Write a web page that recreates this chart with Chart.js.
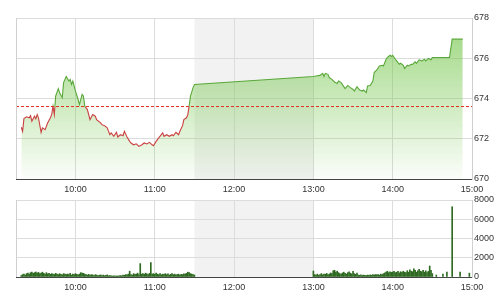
<!DOCTYPE html>
<html><head><meta charset="utf-8">
<script src="https://cdn.jsdelivr.net/npm/chart.js@4.4.0/dist/chart.umd.min.js"></script>
<style>
html,body{margin:0;padding:0;background:#fff;}
#wrap{position:relative;width:501px;height:300px;overflow:hidden;background:#fff;}
canvas{position:absolute;left:0;}
</style></head><body>
<div id="wrap">
<canvas id="vol" width="501" height="112" style="top:188px"></canvas>
<canvas id="price" width="501" height="200" style="top:0"></canvas>
</div>
<script>
const tickLabels = ['10:00','11:00','12:00','13:00','14:00','15:00'];
const axisStart = '09:15', axisEnd = '15:00';
const breakStart = '11:30', breakEnd = '13:00';
const refPrice = 673.6;
const priceMin = 670, priceMax = 678, priceStep = 2;
const volMin = 0, volMax = 8000, volStep = 2000;

const priceTimes = ['09:19','09:20','09:21','09:23','09:25','09:26','09:27','09:29','09:30','09:31','09:32','09:34','09:35','09:37','09:39','09:41','09:42','09:43','09:44','09:45','09:47','09:48','09:50','09:51','09:53','09:55','09:56','09:57','09:58','10:00','10:02','10:03','10:05','10:06','10:07','10:09','10:11','10:13','10:15','10:16','10:19','10:20','10:22','10:24','10:26','10:27','10:29','10:31','10:32','10:34','10:36','10:37','10:39','10:41','10:42','10:44','10:46','10:48','10:50','10:52','10:54','10:56','10:58','10:59','11:01','11:03','11:06','11:07','11:09','11:11','11:13','11:14','11:16','11:18','11:19','11:21','11:22','11:24','11:25','11:26','11:27','11:29','11:30',
'13:00','13:02','13:05','13:07','13:08','13:09','13:11','13:12','13:14','13:16','13:18','13:19','13:21','13:23','13:24','13:26','13:28','13:30','13:31','13:33','13:35','13:37','13:38','13:40','13:41','13:43','13:45','13:46','13:48','13:50','13:52','13:53','13:55','13:56','13:58','13:59','14:00','14:02','14:03','14:05','14:06','14:08','14:09','14:11','14:12','14:14','14:15','14:17','14:18','14:20','14:22','14:24','14:25','14:27','14:29','14:30','14:43','14:45','14:53'];
const priceValues = [672.57,672.37,673.00,673.09,673.04,673.15,672.87,673.12,672.99,673.20,
673.04,672.32,672.54,672.45,672.79,673.04,673.20,673.62,673.20,674.12,
674.49,674.29,674.04,674.79,675.09,674.87,674.95,674.70,674.87,674.37,
673.95,673.70,674.20,674.12,673.62,673.45,672.95,673.20,673.12,672.95,
672.79,672.70,672.65,672.54,672.20,672.29,672.12,672.32,672.09,672.20,
672.15,672.37,672.09,671.87,671.79,671.70,671.75,671.62,671.69,671.79,
671.74,671.82,671.70,671.65,671.87,672.04,672.29,672.12,672.20,672.12,
672.20,672.15,672.32,672.20,672.37,672.65,672.95,673.04,673.20,673.62,
674.12,674.54,674.70,
675.09,675.12,675.15,675.25,675.09,675.25,675.20,675.04,674.95,674.82,
674.75,674.87,674.79,674.59,674.49,674.65,674.54,674.45,674.37,674.59,
674.42,674.37,674.42,674.29,674.62,674.65,674.87,675.29,675.42,675.62,
675.65,675.62,675.95,676.04,676.15,676.09,676.15,675.95,675.87,675.70,
675.75,675.65,675.49,675.65,675.62,675.70,675.69,675.82,675.75,675.92,
675.87,675.95,675.87,675.99,675.92,676.04,676.04,676.95,676.95];

const amVolStart = '09:19';
const amVolume = [150,250,300,200,350,400,300,450,500,380,
450,520,400,480,350,420,500,380,300,450,
320,380,280,350,300,260,380,300,250,340,
280,220,350,300,260,310,240,380,200,300,
260,350,280,220,300,450,420,380,300,260,
200,280,180,250,220,160,240,200,150,180,
220,150,200,140,180,220,130,160,120,100,
120,90,110,100,130,150,120,200,180,250,
220,300,600,250,200,350,280,300,400,250,
1390,300,350,280,400,320,250,380,1500,300,
350,280,400,300,250,350,220,300,280,350,
250,320,200,280,350,240,300,220,260,300,
200,280,250,330,300,380,500,450,350,300,
250,200];
const pmVolStart = '13:00';
const pmVolume = [620,250,200,300,180,250,350,220,300,280,
380,250,300,420,350,650,700,500,600,450,
350,300,420,500,380,300,450,550,400,320,
600,350,280,400,200,180,220,160,200,180,
150,200,170,220,180,240,200,260,220,250,
200,300,260,350,420,500,600,450,550,480,
520,600,450,500,580,420,550,480,600,500,
450,650,500,750,600,550,850,700,500,650,
800,600,550,700,500,650,450,600,1140,700,
350];
const lateVolTimes = ['14:33','14:38','14:41','14:45','14:51','14:58'];
const lateVolume = [200,300,500,7300,500,400];

function toMin(s){ const p = s.split(':'); return (+p[0])*60 + (+p[1]); }
function fmt(v){ const h = Math.floor(v/60), m = v%60; return String(h).padStart(2,'0')+':'+String(m).padStart(2,'0'); }

const font = {family:'"Liberation Sans", Arial, sans-serif', size:9};
const txt = '#333';
const gridCol = '#dcdcdc';
const green = '#5aa83a', red = '#c94040';

const bandPlugin = {
  id:'band',
  beforeDraw(chart){
    const {ctx, chartArea:a, scales:{x}} = chart;
    const x0 = x.getPixelForValue(toMin(breakStart)), x1 = x.getPixelForValue(toMin(breakEnd));
    ctx.save();
    ctx.fillStyle = '#f2f2f2';
    ctx.fillRect(x0, a.top, x1-x0, a.bottom-a.top);
    ctx.restore();
  },
  afterDraw(chart){
    const {ctx, chartArea:a} = chart;
    ctx.save();
    ctx.strokeStyle = '#d0d0d0'; ctx.lineWidth = 1;
    ctx.beginPath(); ctx.moveTo(Math.round(a.left)+0.5, a.top); ctx.lineTo(Math.round(a.left)+0.5, a.bottom); ctx.stroke();
    ctx.restore();
  }
};

function xScale(h){
  return {
    type:'linear', min:toMin(axisStart), max:toMin(axisEnd), offset:false,
    afterBuildTicks: s => { s.ticks = tickLabels.map(t => ({value:toMin(t)})); },
    afterFit: s => { s.height = h; },
    grid:{color:gridCol, drawTicks:false, lineWidth:1, offset:false},
    border:{color:'#444', width:1},
    ticks:{padding:5, maxRotation:0, autoSkip:false, font, color:txt, callback: v => fmt(v)}
  };
}

function lineColor(c){
  const ch = c.chart, a = ch.chartArea;
  if(!a) return red;
  const y = ch.scales.y.getPixelForValue(refPrice);
  const f = Math.min(1, Math.max(0, (y - a.top)/(a.bottom - a.top)));
  const g = ch.ctx.createLinearGradient(0, a.top, 0, a.bottom);
  g.addColorStop(0, green); g.addColorStop(f, green);
  g.addColorStop(f, red); g.addColorStop(1, red);
  return g;
}
function fillColor(c){
  const ch = c.chart, a = ch.chartArea;
  if(!a) return 'rgba(120,200,80,0.3)';
  const g = ch.ctx.createLinearGradient(0, a.top + 20, 0, a.bottom);
  g.addColorStop(0, 'rgba(120,200,80,0.65)');
  g.addColorStop(0.5, 'rgba(120,200,80,0.34)');
  g.addColorStop(1, 'rgba(120,200,80,0.03)');
  return g;
}

new Chart(document.getElementById('price'), {
  type:'line',
  data:{datasets:[
    {data:[{x:toMin(axisStart), y:refPrice},{x:toMin(axisEnd), y:refPrice}],
     borderColor:'#e52a20', borderWidth:1, borderDash:[3,2], pointRadius:0, fill:false, order:0},
    {data:priceTimes.map((t,i)=>({x:toMin(t), y:priceValues[i]})),
     borderColor:lineColor, backgroundColor:fillColor, borderWidth:1.1, pointRadius:0, tension:0, fill:'start', order:1}
  ]},
  options:{
    responsive:false, animation:false, events:[],
    layout:{padding:{left:16, top:18, right:0, bottom:0}},
    plugins:{legend:{display:false}, tooltip:{enabled:false}},
    scales:{
      x:xScale(21),
      y:{position:'right', min:priceMin, max:priceMax,
         afterFit: s => { s.width = 29; },
         grid:{color:gridCol, drawTicks:false},
         border:{display:true, color:'#d0d0d0'},
         ticks:{stepSize:priceStep, padding:2, font, color:txt, callback: v => String(v)}}
    }
  },
  plugins:[bandPlugin]
});

const volData = [];
amVolume.forEach((v,i)=>volData.push({x:toMin(amVolStart)+i, y:v}));
pmVolume.forEach((v,i)=>volData.push({x:toMin(pmVolStart)+i, y:v}));
lateVolTimes.forEach((t,i)=>volData.push({x:toMin(t), y:lateVolume[i]}));

new Chart(document.getElementById('vol'), {
  type:'bar',
  data:{datasets:[{data:volData, backgroundColor:'#2f6a22', barThickness:1}]},
  options:{
    responsive:false, animation:false, events:[],
    layout:{padding:{left:16, top:12, right:0, bottom:0}},
    plugins:{legend:{display:false}, tooltip:{enabled:false}},
    scales:{
      x:xScale(23),
      y:{position:'right', min:volMin, max:volMax,
         afterFit: s => { s.width = 29; },
         grid:{color:gridCol, drawTicks:false},
         border:{display:true, color:'#d0d0d0'},
         ticks:{stepSize:volStep, padding:2, font, color:txt, callback: v => String(v)}}
    }
  },
  plugins:[bandPlugin]
});
</script>
</body></html>
